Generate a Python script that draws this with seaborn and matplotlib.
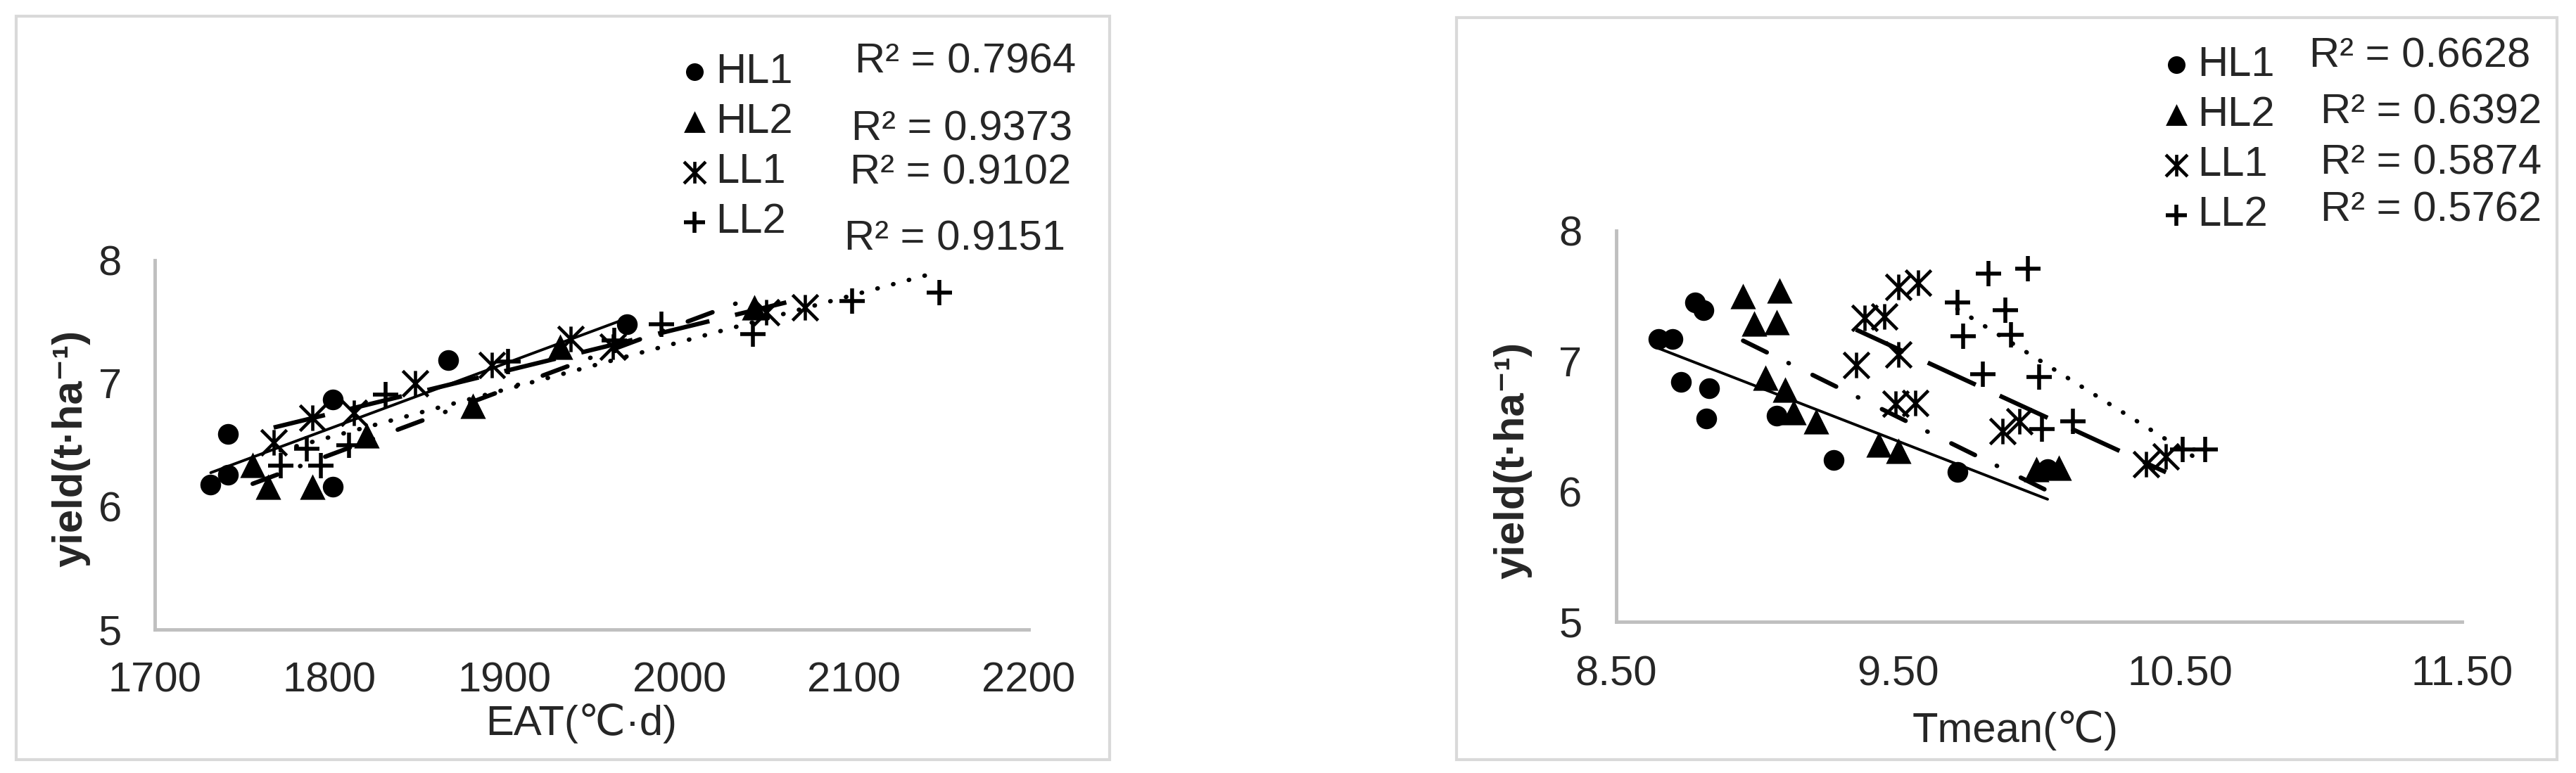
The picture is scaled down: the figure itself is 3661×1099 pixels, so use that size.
import matplotlib
matplotlib.use("Agg")
import matplotlib.pyplot as plt
from matplotlib.path import Path
from matplotlib.patches import Rectangle
import seaborn as sns

# ---- data ----
groups = ["HL1", "HL2", "LL1", "LL2"]

# left panel: yield vs effective accumulated temperature
eat_hl1 = [1732, 1742, 1742, 1802, 1802, 1868, 1970]
eat_yield_hl1 = [6.18, 6.26, 6.59, 6.87, 6.16, 7.19, 7.48]
eat_hl2 = [1756, 1765, 1790, 1821, 1882, 1932, 2043]
eat_yield_hl2 = [6.34, 6.16, 6.16, 6.58, 6.82, 7.30, 7.62]
eat_ll1 = [1768, 1790, 1814, 1849, 1893, 1938, 1962, 2050, 2072]
eat_yield_ll1 = [6.52, 6.72, 6.76, 7.00, 7.15, 7.36, 7.30, 7.58, 7.62]
eat_ll2 = [1772, 1787, 1795, 1811, 1832, 1902, 1963, 1990, 2042, 2099, 2149]
eat_yield_ll2 = [6.33, 6.47, 6.33, 6.50, 6.91, 7.18, 7.35, 7.48, 7.40, 7.67, 7.74]

# right panel: yield vs mean temperature
tm_hl1 = [8.65, 8.70, 8.78, 8.81, 8.73, 8.83, 8.82, 9.07, 9.27, 9.71, 10.03]
tm_yield_hl1 = [7.17, 7.17, 7.45, 7.39, 6.84, 6.79, 6.56, 6.58, 6.24, 6.15, 6.17]
tm_hl2 = [8.95, 9.08, 8.99, 9.07, 9.03, 9.10, 9.13, 9.21, 9.43, 9.50, 9.99, 10.07]
tm_yield_hl2 = [7.50, 7.54, 7.29, 7.30, 6.87, 6.78, 6.61, 6.54, 6.36, 6.31, 6.17, 6.18]
tm_ll1 = [9.35, 9.38, 9.45, 9.50, 9.57, 9.50, 9.49, 9.56, 9.87, 9.93, 10.38, 10.45]
tm_yield_ll1 = [6.97, 7.33, 7.34, 7.57, 7.60, 7.05, 6.67, 6.68, 6.46, 6.54, 6.21, 6.27]
tm_ll2 = [9.82, 9.96, 9.71, 9.88, 9.73, 9.90, 9.80, 10.00, 10.01, 10.12, 10.51, 10.59]
tm_yield_ll2 = [7.67, 7.71, 7.45, 7.39, 7.19, 7.20, 6.90, 6.88, 6.48, 6.54, 6.32, 6.32]

r2_eat = ["0.7964", "0.9373", "0.9102", "0.9151"]
r2_tmean = ["0.6628", "0.6392", "0.5874", "0.5762"]

eat_ticks = [1700, 1800, 1900, 2000, 2100, 2200]
tmean_ticks = [8.5, 9.5, 10.5, 11.5]
yield_ticks = [5, 6, 7, 8]

# ---- style ----
W, H = 3662, 1099
FS = 43
sns.set_style("white")
plt.rcParams["font.family"] = ["Liberation Sans", "DejaVu Sans"]

star = Path([(-1, -1), (1, 1), (-1, 1), (1, -1), (0, -1), (0, 1)],
            [Path.MOVETO, Path.LINETO] * 3)
markers = {"HL1": "o", "HL2": "^", "LL1": star, "LL2": "+"}
sizes = {"HL1": 450, "HL2": 680, "LL1": 680, "LL2": 680}
mlw = {"HL1": 0, "HL2": 0, "LL1": 3.3, "LL2": 4.0}
line_styles = {
    "HL1": dict(linestyle="-", lw=2.8),
    "HL2": dict(linestyle=(0, (6, 5.5, 0.1, 6)), lw=4.5, dash_capstyle="round"),
    "LL1": dict(linestyle=(0, (12, 6)), lw=4.5),
    "LL2": dict(linestyle=(0, (0.1, 3.6)), lw=4.5, dash_capstyle="round"),
}


def fx(px):
    return px / W


def fy(py):
    return 1 - py / H


def px_axes(fig, x0, x1, y0, y1):
    return fig.add_axes([fx(x0), fy(y1), (x1 - x0) / W, (y1 - y0) / H])


def draw_panel(ax, xs, ys):
    for g in groups:
        sns.regplot(x=xs[g], y=ys[g], ax=ax, scatter=False, ci=None,
                    truncate=True, color="black", line_kws=line_styles[g])
        sns.scatterplot(x=xs[g], y=ys[g], ax=ax, marker=markers[g], s=sizes[g],
                        color="black", edgecolor="black", linewidth=mlw[g],
                        label=g, legend=False, zorder=3)
    sns.despine(ax=ax)
    for side in ["left", "bottom"]:
        ax.spines[side].set_color("#bfbfbf")
        ax.spines[side].set_linewidth(3.5)
    ax.grid(False)


fig = plt.figure(figsize=(W / 100, H / 100), dpi=100)

# outer chart-area borders
for (x0, y0, x1, y1) in [(23, 23, 1577, 1080), (2070, 25, 3634, 1080)]:
    fig.patches.append(Rectangle((fx(x0), fy(y1)), (x1 - x0) / W, (y1 - y0) / H,
                                 transform=fig.transFigure, fill=False,
                                 edgecolor="#d9d9d9", lw=3))

# left panel
ax1 = px_axes(fig, 220, 1462, 370, 895)
draw_panel(ax1,
           {"HL1": eat_hl1, "HL2": eat_hl2, "LL1": eat_ll1, "LL2": eat_ll2},
           {"HL1": eat_yield_hl1, "HL2": eat_yield_hl2,
            "LL1": eat_yield_ll1, "LL2": eat_yield_ll2})
ax1.set_xlim(1700, 2200)
ax1.set_ylim(5, 8)
ax1.set_xticks(eat_ticks)
ax1.set_yticks(yield_ticks)
ax1.tick_params(axis="x", length=0, labelsize=FS, pad=33)
ax1.tick_params(axis="y", length=0, labelsize=FS, pad=34)
ax1.set_xlabel("EAT(℃·d)", fontsize=FS)
ax1.set_ylabel("yield(t·ha⁻¹)", fontsize=FS, fontweight="bold")
ax1.xaxis.set_label_coords(0.488, -0.2)
ax1.yaxis.set_label_coords(-0.074, 0.49)

# right panel
ax2 = px_axes(fig, 2297, 3499, 328, 884)
draw_panel(ax2,
           {"HL1": tm_hl1, "HL2": tm_hl2, "LL1": tm_ll1, "LL2": tm_ll2},
           {"HL1": tm_yield_hl1, "HL2": tm_yield_hl2,
            "LL1": tm_yield_ll1, "LL2": tm_yield_ll2})
ax2.set_xlim(8.5, 11.5)
ax2.set_ylim(5, 8)
ax2.set_xticks(tmean_ticks)
ax2.set_xticklabels([f"{t:.2f}" for t in tmean_ticks])
ax2.set_yticks(yield_ticks)
ax2.tick_params(axis="x", length=0, labelsize=FS, pad=34)
ax2.tick_params(axis="y", length=0, labelsize=FS, pad=35)
ax2.set_xlabel("Tmean(℃)", fontsize=FS)
ax2.set_ylabel("yield(t·ha⁻¹)", fontsize=FS, fontweight="bold")
ax2.xaxis.set_label_coords(0.472, -0.2266)
ax2.yaxis.set_label_coords(-0.0998, 0.412)

# legends (Excel style, marker + name)
for ax, lx, ly in [(ax1, 972, 75), (ax2, 3078, 65)]:
    handles = list(ax.collections)
    ax.legend(handles, groups, loc="upper left",
              bbox_to_anchor=(fx(lx), fy(ly)), bbox_transform=fig.transFigure,
              frameon=False, fontsize=FS, markerscale=0.85, handlelength=0.5,
              handletextpad=0.25, labelspacing=0.27, borderpad=0,
              borderaxespad=0, scatterpoints=1)

# R² labels of the linear trend lines
r2_left_pos = [(1215, 104), (1210, 199), (1208, 262), (1200, 356)]
r2_right_pos = [(3282, 95), (3298, 175), (3298, 247), (3298, 315)]
for vals, pos in [(r2_eat, r2_left_pos), (r2_tmean, r2_right_pos)]:
    for v, (x, y) in zip(vals, pos):
        fig.text(fx(x), fy(y), f"R² = {v}", fontsize=FS, ha="left", va="baseline")

fig.savefig("out.png", dpi=100, facecolor="white")
